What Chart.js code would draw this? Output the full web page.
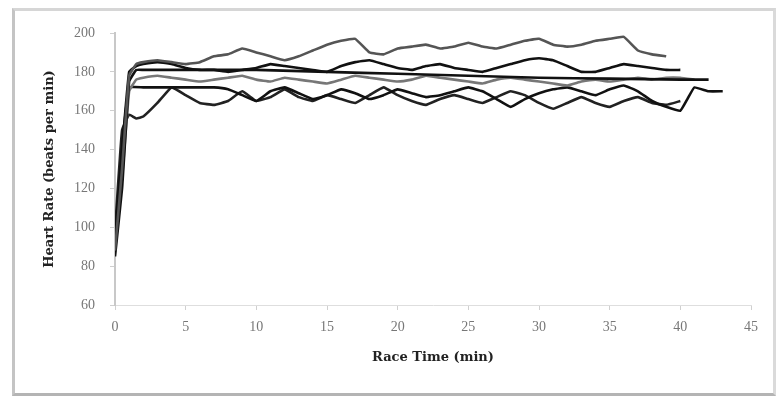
<!DOCTYPE html>
<html>
<head>
<meta charset="utf-8">
<script src="https://cdn.jsdelivr.net/npm/chart.js@4.4.0/dist/chart.umd.min.js"></script>
<style>
  html, body { margin: 0; padding: 0; background: #fff; }
  #wrap { position: relative; width: 781px; height: 402px; }
  #frame {
    position: absolute; left: 12px; top: 8px; width: 764px; height: 388px;
    box-sizing: border-box; border: 3px solid #c4c4c4;
    border-top-color: #d6d6d6; border-right-color: #dadada; border-bottom-color: #b4b4b4;
  }
  canvas { position: absolute; left: 0; top: 0; }
</style>
</head>
<body>
<div id="wrap">
  <div id="frame"></div>
  <canvas id="c" width="781" height="402"></canvas>
</div>
<script>
// race time (min) for each series
const timeA = [0, 0.5, 1, 1.5, 2, 3, 4, 5, 6, 7, 8, 9, 10, 11, 12, 13, 14, 15, 16, 17, 18, 19, 20, 21, 22, 23, 24, 25, 26, 27, 28, 29, 30, 31, 32, 33, 34, 35, 36, 37, 38, 39];
const hrA   = [88, 130, 178, 184, 185, 186, 185, 184, 185, 188, 189, 192, 190, 188, 186, 188, 191, 194, 196, 197, 190, 189, 192, 193, 194, 192, 193, 195, 193, 192, 194, 196, 197, 194, 193, 194, 196, 197, 198, 191, 189, 188];

const timeB = [0, 0.5, 1, 1.5, 2, 3, 4, 5, 6, 7, 8, 9, 10, 11, 12, 13, 14, 15, 16, 17, 18, 19, 20, 21, 22, 23, 24, 25, 26, 27, 28, 29, 30, 31, 32, 33, 34, 35, 36, 37, 38, 39, 40];
const hrB   = [95, 140, 180, 183, 184, 185, 184, 182, 181, 181, 180, 181, 182, 184, 183, 182, 181, 180, 183, 185, 186, 184, 182, 181, 183, 184, 182, 181, 180, 182, 184, 186, 187, 186, 183, 180, 180, 182, 184, 183, 182, 181, 181];

const timeC = [0, 0.5, 1, 1.5, 2, 5, 10, 15, 20, 25, 30, 35, 40, 42];
const hrC   = [85, 120, 175, 181, 181, 181, 181, 180, 179, 178, 177, 176.5, 176, 176];

const timeD = [0, 0.5, 1, 1.5, 2, 3, 4, 5, 6, 7, 8, 9, 10, 11, 12, 13, 14, 15, 16, 17, 18, 19, 20, 21, 22, 23, 24, 25, 26, 27, 28, 29, 30, 31, 32, 33, 34, 35, 36, 37, 38, 39, 40, 41];
const hrD   = [92, 125, 170, 176, 177, 178, 177, 176, 175, 176, 177, 178, 176, 175, 177, 176, 175, 174, 176, 178, 177, 176, 175, 176, 178, 177, 176, 175, 174, 176, 177, 176, 175, 174, 173, 175, 176, 175, 176, 177, 176, 177, 177, 176];

const timeE = [0, 0.5, 1, 2, 3, 4, 5, 6, 7, 8, 9, 10, 11, 12, 13, 14, 15, 16, 17, 18, 19, 20, 21, 22, 23, 24, 25, 26, 27, 28, 29, 30, 31, 32, 33, 34, 35, 36, 37, 38, 39, 40, 40.5, 41, 42, 43];
const hrE   = [90, 140, 172, 172, 172, 172, 172, 172, 172, 171, 168, 165, 170, 172, 169, 166, 168, 171, 169, 166, 168, 171, 169, 167, 168, 170, 172, 170, 166, 162, 166, 169, 171, 172, 170, 168, 171, 173, 170, 165, 162, 160, 166, 172, 170, 170];

const timeF = [0, 0.5, 1, 1.5, 2, 3, 4, 5, 6, 7, 8, 9, 10, 11, 12, 13, 14, 15, 16, 17, 18, 19, 20, 21, 22, 23, 24, 25, 26, 27, 28, 29, 30, 31, 32, 33, 34, 35, 36, 37, 38, 39, 40];
const hrF   = [98, 150, 158, 156, 157, 164, 172, 168, 164, 163, 165, 170, 165, 167, 171, 167, 165, 168, 166, 164, 168, 172, 168, 165, 163, 166, 168, 166, 164, 167, 170, 168, 164, 161, 164, 167, 164, 162, 165, 167, 164, 163, 165];

const xTicks = [0, 5, 10, 15, 20, 25, 30, 35, 40, 45];
const yTicks = [60, 80, 100, 120, 140, 160, 180, 200];

function toPoints(ts, vs) {
    return ts.map((t, i) => ({ x: t, y: vs[i] }));
}

function makeSet(ts, vs, col) {
    return {
        data: toPoints(ts, vs),
        borderColor: col,
        borderWidth: 2.6,
        pointRadius: 0,
        tension: 0.1,
        fill: false
    };
}

const ctx = document.getElementById('c').getContext('2d');
new Chart(ctx, {
    type: 'line',
    data: {
        datasets: [
            makeSet(timeA, hrA, '#555'),
            makeSet(timeB, hrB, '#111'),
            makeSet(timeC, hrC, '#111'),
            makeSet(timeD, hrD, '#777'),
            makeSet(timeE, hrE, '#111'),
            makeSet(timeF, hrF, '#222')
        ]
    },
    options: {
        responsive: false,
        animation: false,
        layout: { padding: { left: 0, top: 33, right: 30, bottom: 0 } },
        plugins: { legend: { display: false }, tooltip: { enabled: false } },
        scales: {
            x: {
                type: 'linear',
                min: 0, max: 45,
                afterFit: s => { s.height = 97; },
                afterBuildTicks: s => { s.ticks = xTicks.map(v => ({ value: v })); },
                grid: { drawOnChartArea: false, drawTicks: true, tickLength: 5, color: '#d0d0d0' },
                border: { display: true, color: '#dedede', width: 1 },
                ticks: { color: '#777', padding: 9, maxRotation: 0, font: { family: 'Liberation Serif', size: 14 } },
                title: {
                    display: true, text: 'Race Time (min)', color: '#222',
                    font: { family: 'DejaVu Serif', size: 13, weight: 'bold' },
                    padding: { top: 0, bottom: 37 }
                }
            },
            y: {
                min: 60, max: 200,
                afterFit: s => { s.width = 115; },
                afterBuildTicks: s => { s.ticks = yTicks.map(v => ({ value: v })); },
                grid: { drawOnChartArea: false, drawTicks: true, tickLength: 5, color: '#cfcfcf' },
                border: { display: true, color: '#c8c8c8', width: 2 },
                ticks: { color: '#777', padding: 15, font: { family: 'Liberation Serif', size: 14 } },
                title: {
                    display: true, text: 'Heart Rate (beats per min)', color: '#222',
                    font: { family: 'DejaVu Serif', size: 13, weight: 'bold' },
                    padding: { top: 42, bottom: 0 }
                }
            }
        }
    }
});
</script>
</body>
</html>
